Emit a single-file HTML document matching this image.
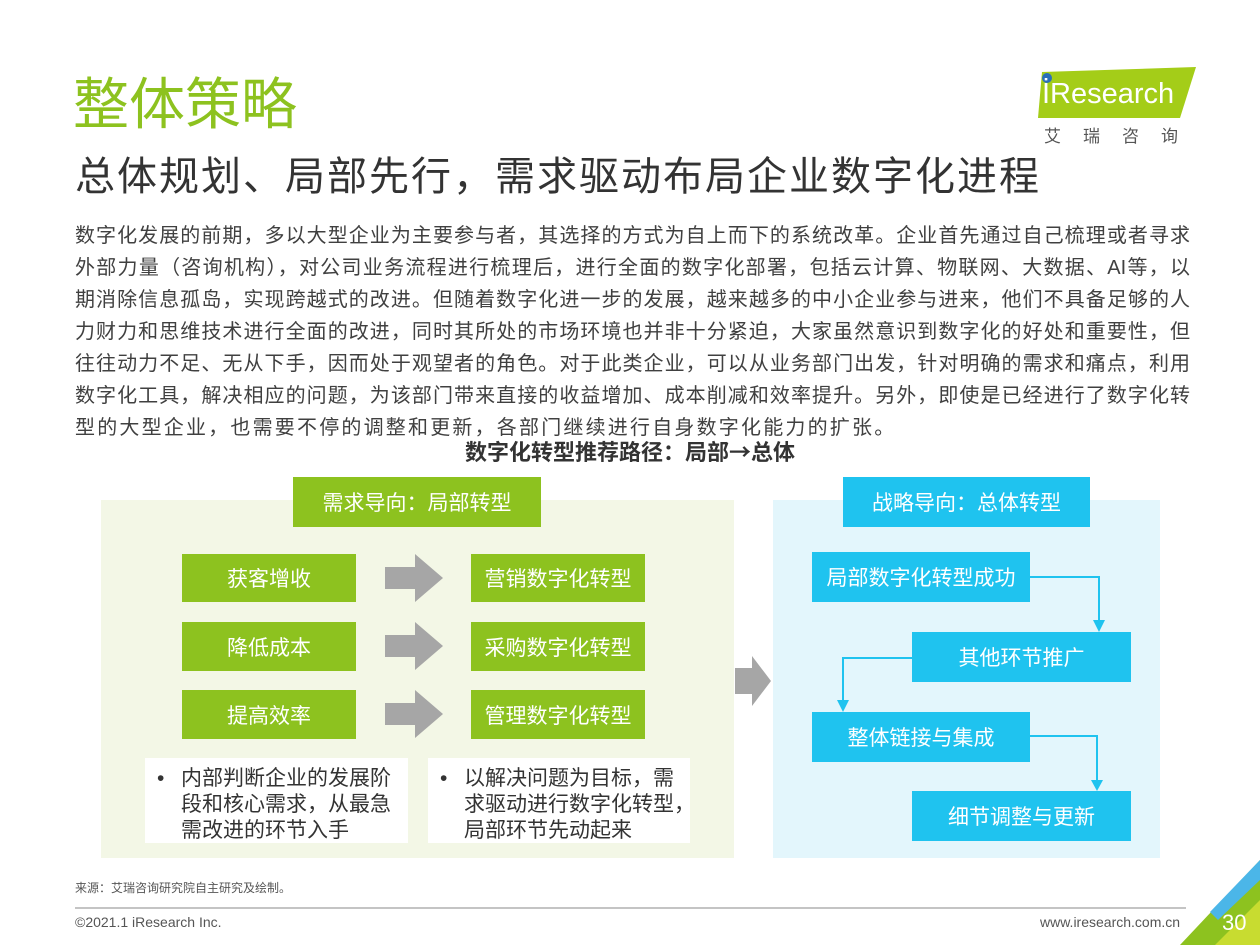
<!DOCTYPE html>
<html><head><meta charset="utf-8"><style>
*{margin:0;padding:0;box-sizing:border-box}
body{width:1260px;height:945px;background:#fff;position:relative;overflow:hidden;font-family:"Liberation Sans","Noto Sans CJK SC",sans-serif;color:#333}
.a{position:absolute}
.line{position:absolute;left:75px;width:1115px;font-size:20px;text-align:justify;text-align-last:justify;white-space:nowrap;height:32px;line-height:32px;color:#404040}
.g{position:absolute;background:#8dc21f;color:#fff;font-size:21px;display:flex;align-items:center;justify-content:center}
.b{position:absolute;background:#1fc3ef;color:#fff;font-size:21px;display:flex;align-items:center;justify-content:center}
.w{position:absolute;background:#fff;font-size:21px;line-height:26px;color:#333;padding:8px 0 0 36px;white-space:nowrap}
.w span{position:absolute;left:12px;top:8px}
</style></head><body>
<div class="a" style="left:73px;top:70px;font-size:56px;color:#8dc21f;line-height:70px;letter-spacing:0px">整体策略</div>
<div class="a" style="left:75px;top:150px;font-size:40px;color:#333;line-height:54px;letter-spacing:2px">总体规划、局部先行，需求驱动布局企业数字化进程</div>
<svg class="a" style="left:1030px;top:62px" width="175" height="60"><polygon points="12,10 166,5 150,56 8,56" fill="#a4cd18"/><circle cx="17" cy="16" r="5" fill="#2a6fb8"/></svg>
<div class="a" style="left:1042px;top:76px;font-size:29px;color:#fff;line-height:36px">İResearch</div>
<div class="a" style="left:1044px;top:122px;font-size:17px;color:#555;letter-spacing:22px">艾瑞咨询</div>
<div class="line" style="top:220px">数字化发展的前期，多以大型企业为主要参与者，其选择的方式为自上而下的系统改革。企业首先通过自己梳理或者寻求</div>
<div class="line" style="top:252px">外部力量（咨询机构），对公司业务流程进行梳理后，进行全面的数字化部署，包括云计算、物联网、大数据、AI等，以</div>
<div class="line" style="top:284px">期消除信息孤岛，实现跨越式的改进。但随着数字化进一步的发展，越来越多的中小企业参与进来，他们不具备足够的人</div>
<div class="line" style="top:316px">力财力和思维技术进行全面的改进，同时其所处的市场环境也并非十分紧迫，大家虽然意识到数字化的好处和重要性，但</div>
<div class="line" style="top:348px">往往动力不足、无从下手，因而处于观望者的角色。对于此类企业，可以从业务部门出发，针对明确的需求和痛点，利用</div>
<div class="line" style="top:380px">数字化工具，解决相应的问题，为该部门带来直接的收益增加、成本削减和效率提升。另外，即使是已经进行了数字化转</div>
<div class="line" style="top:412px;width:auto;text-align-last:auto;letter-spacing:2.2px">型的大型企业，也需要不停的调整和更新，各部门继续进行自身数字化能力的扩张。</div>
<div class="a" style="left:0;width:1260px;top:436px;text-align:center;font-size:22px;font-weight:bold;color:#333;line-height:30px">数字化转型推荐路径：局部<span style="font-family:'Noto Sans CJK SC',sans-serif">→</span>总体</div>
<div class="a" style="left:101px;top:500px;width:633px;height:358px;background:#f3f7e6"></div>
<div class="a" style="left:773px;top:500px;width:387px;height:358px;background:#e3f6fc"></div>
<div class="g" style="left:293px;top:477px;width:248px;height:50px">需求导向：局部转型</div>
<div class="b" style="left:843px;top:477px;width:247px;height:50px">战略导向：总体转型</div>
<div class="g" style="left:182px;top:554px;width:174px;height:48px">获客增收</div>
<div class="g" style="left:182px;top:622px;width:174px;height:49px">降低成本</div>
<div class="g" style="left:182px;top:690px;width:174px;height:49px">提高效率</div>
<div class="g" style="left:471px;top:554px;width:174px;height:48px">营销数字化转型</div>
<div class="g" style="left:471px;top:622px;width:174px;height:49px">采购数字化转型</div>
<div class="g" style="left:471px;top:690px;width:174px;height:49px">管理数字化转型</div>
<svg class="a" style="left:0;top:0" width="1260" height="945">
<g fill="#a6a6a6">
<polygon points="385,567 415,567 415,554 443,578 415,602 415,589 385,589"/>
<polygon points="385,635 415,635 415,622 443,646 415,670 415,657 385,657"/>
<polygon points="385,703 415,703 415,690 443,714 415,738 415,725 385,725"/>
<polygon points="735,668 752,668 752,656 771,681 752,706 752,694 735,694"/>
</g>
<g stroke="#1fc3ef" stroke-width="2" fill="none">
<polyline points="1030,577 1099,577 1099,622"/>
<polyline points="912,658 843,658 843,703"/>
<polyline points="1030,736 1097,736 1097,782"/>
</g>
<g fill="#1fc3ef">
<polygon points="1093,620 1105,620 1099,632"/>
<polygon points="837,700 849,700 843,712"/>
<polygon points="1091,780 1103,780 1097,791"/>
</g>
<line x1="75" y1="908" x2="1186" y2="908" stroke="#888" stroke-width="1"/>
<polygon points="1260,860 1260,945 1180,945" fill="#8dc21f"/>
<polygon points="1260,860 1260,880 1218,920 1210,912" fill="#4bb6e8"/>
<polygon points="1260,900 1260,945 1215,945" fill="#c8dc30"/>
</svg>
<div class="b" style="left:812px;top:552px;width:218px;height:50px">局部数字化转型成功</div>
<div class="b" style="left:912px;top:632px;width:219px;height:50px">其他环节推广</div>
<div class="b" style="left:812px;top:712px;width:218px;height:50px">整体链接与集成</div>
<div class="b" style="left:912px;top:791px;width:219px;height:50px">细节调整与更新</div>
<div class="w" style="left:145px;top:758px;width:263px;height:85px"><span>•</span>内部判断企业的发展阶<br>段和核心需求，从最急<br>需改进的环节入手</div>
<div class="w" style="left:428px;top:758px;width:262px;height:85px"><span>•</span>以解决问题为目标，需<br>求驱动进行数字化转型，<br>局部环节先动起来</div>
<div class="a" style="left:75px;top:879px;font-size:12px;color:#555">来源：艾瑞咨询研究院自主研究及绘制。</div>
<div class="a" style="left:75px;top:914px;font-size:14px;color:#555">©2021.1 iResearch Inc.</div>
<div class="a" style="left:1040px;top:914px;font-size:14px;color:#555">www.iresearch.com.cn</div>
<div class="a" style="left:1222px;top:910px;font-size:22px;color:#fff">30</div>
</body></html>
